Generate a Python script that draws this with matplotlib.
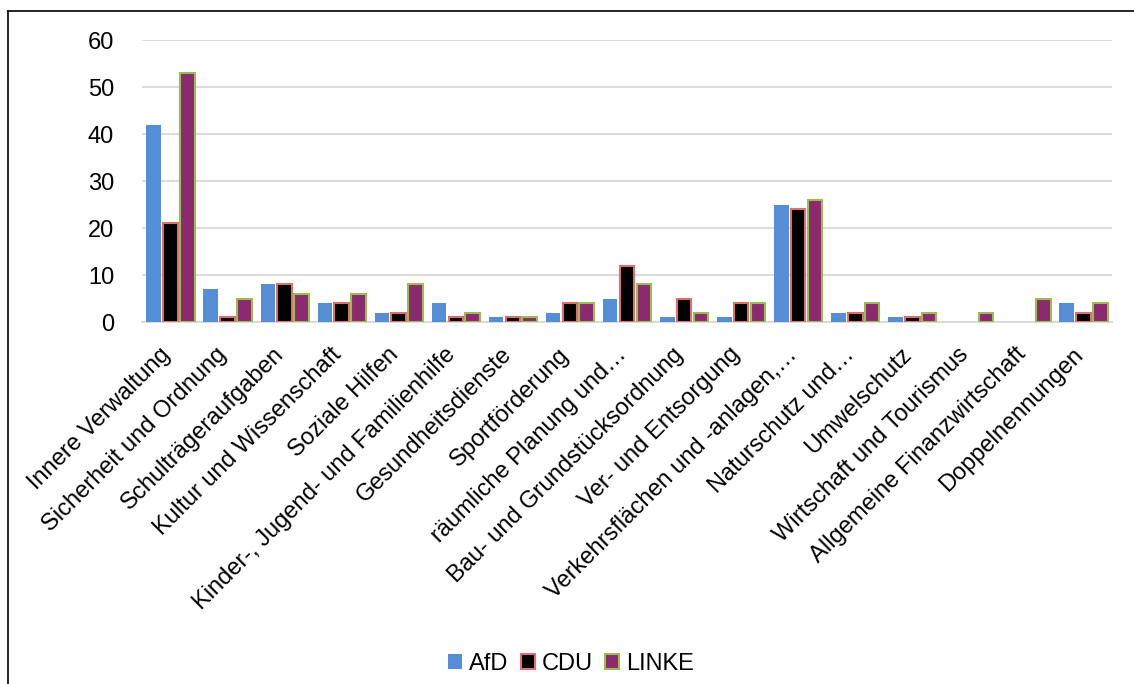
import matplotlib
matplotlib.use("Agg")
import matplotlib.pyplot as plt
import numpy as np
from matplotlib.lines import Line2D
from matplotlib.patches import Patch
import matplotlib.transforms as mtransforms

categories = [
    "Innere Verwaltung", "Sicherheit und Ordnung", "Schulträgeraufgaben",
    "Kultur und Wissenschaft", "Soziale Hilfen", "Kinder-, Jugend- und Familienhilfe",
    "Gesundheitsdienste", "Sportförderung", "räumliche Planung und…",
    "Bau- und Grundstücksordnung", "Ver- und Entsorgung", "Verkehrsflächen und -anlagen,…",
    "Naturschutz und…", "Umwelschutz", "Wirtschaft und Tourismus",
    "Allgemeine Finanzwirtschaft", "Doppelnennungen",
]
afd = [42, 7, 8, 4, 2, 4, 1, 2, 5, 1, 1, 25, 2, 1, 0, 0, 4]
cdu = [21, 1, 8, 4, 2, 1, 1, 4, 12, 5, 4, 24, 2, 1, 0, 0, 2]
linke = [53, 5, 6, 6, 8, 2, 1, 4, 8, 2, 4, 26, 4, 2, 2, 5, 4]
series_names = ["AfD", "CDU", "LINKE"]
yticks = [0, 10, 20, 30, 40, 50, 60]

plt.rcParams['font.family'] = ['Liberation Sans', 'DejaVu Sans']
FS = 17

W, H = 1134, 684
fig = plt.figure(figsize=(W / 100, H / 100), dpi=100)
ax = fig.add_axes([142 / W, 1 - 322 / H, (1112 - 142) / W, (322 - 40) / H])

x = np.arange(len(categories))
bw = 0.255
gap = 0.04
off = bw + gap
fills = ["#558ED5", "#000000", "#8B2A6C"]
edges = ["#558ED5", "#D9706D", "#9BBB59"]
lws = [0, 1.5, 1.5]
for i, (vals, name) in enumerate(zip([afd, cdu, linke], series_names)):
    lw = [lws[i] if v > 0 else 0 for v in vals]
    ax.bar(x + (i - 1) * off, vals, bw, color=fills[i], edgecolor=edges[i],
           linewidth=lw, label=name, zorder=3)

ax.set_xlim(-0.5, len(categories) - 0.5)
ax.set_ylim(0, 60)
ax.set_yticks(yticks)
ax.yaxis.grid(True, color="#D9D9D9", linewidth=1.3, zorder=0)
ax.set_axisbelow(True)
for s in ["top", "right", "left"]:
    ax.spines[s].set_visible(False)
ax.spines["bottom"].set_color("#D9D9D9")
ax.spines["bottom"].set_linewidth(1.3)
ax.tick_params(axis="both", length=0, labelsize=FS, colors="black")
ax.tick_params(axis="y", pad=20)
ax.set_xticks(x)
ax.set_xticklabels(categories, rotation=45, ha="right", va="center",
                   rotation_mode="anchor", fontsize=FS)
ax.tick_params(axis="x", pad=21)
shift = mtransforms.ScaledTranslation(-4 / 100, 0, fig.dpi_scale_trans)
for lab in ax.get_xticklabels():
    lab.set_transform(lab.get_transform() + shift)

handles = [Patch(facecolor=fills[i], edgecolor=edges[i], linewidth=lws[i])
           for i in range(3)]
fig.legend(handles, series_names, loc="center", bbox_to_anchor=(571 / W, 1 - 664 / H),
           ncol=3, frameon=False, fontsize=FS, handlelength=0.6, handleheight=0.6,
           handletextpad=0.3, columnspacing=0.5, borderpad=0)

# outer border (left and top only)
fig.add_artist(Line2D([7.5 / W, 7.5 / W], [0, 1 - 10.5 / H], transform=fig.transFigure,
                      color="black", linewidth=1.2))
fig.add_artist(Line2D([7.5 / W, 1], [1 - 10.5 / H, 1 - 10.5 / H], transform=fig.transFigure,
                      color="black", linewidth=1.2))

fig.savefig("out.png", dpi=100, facecolor="white")
